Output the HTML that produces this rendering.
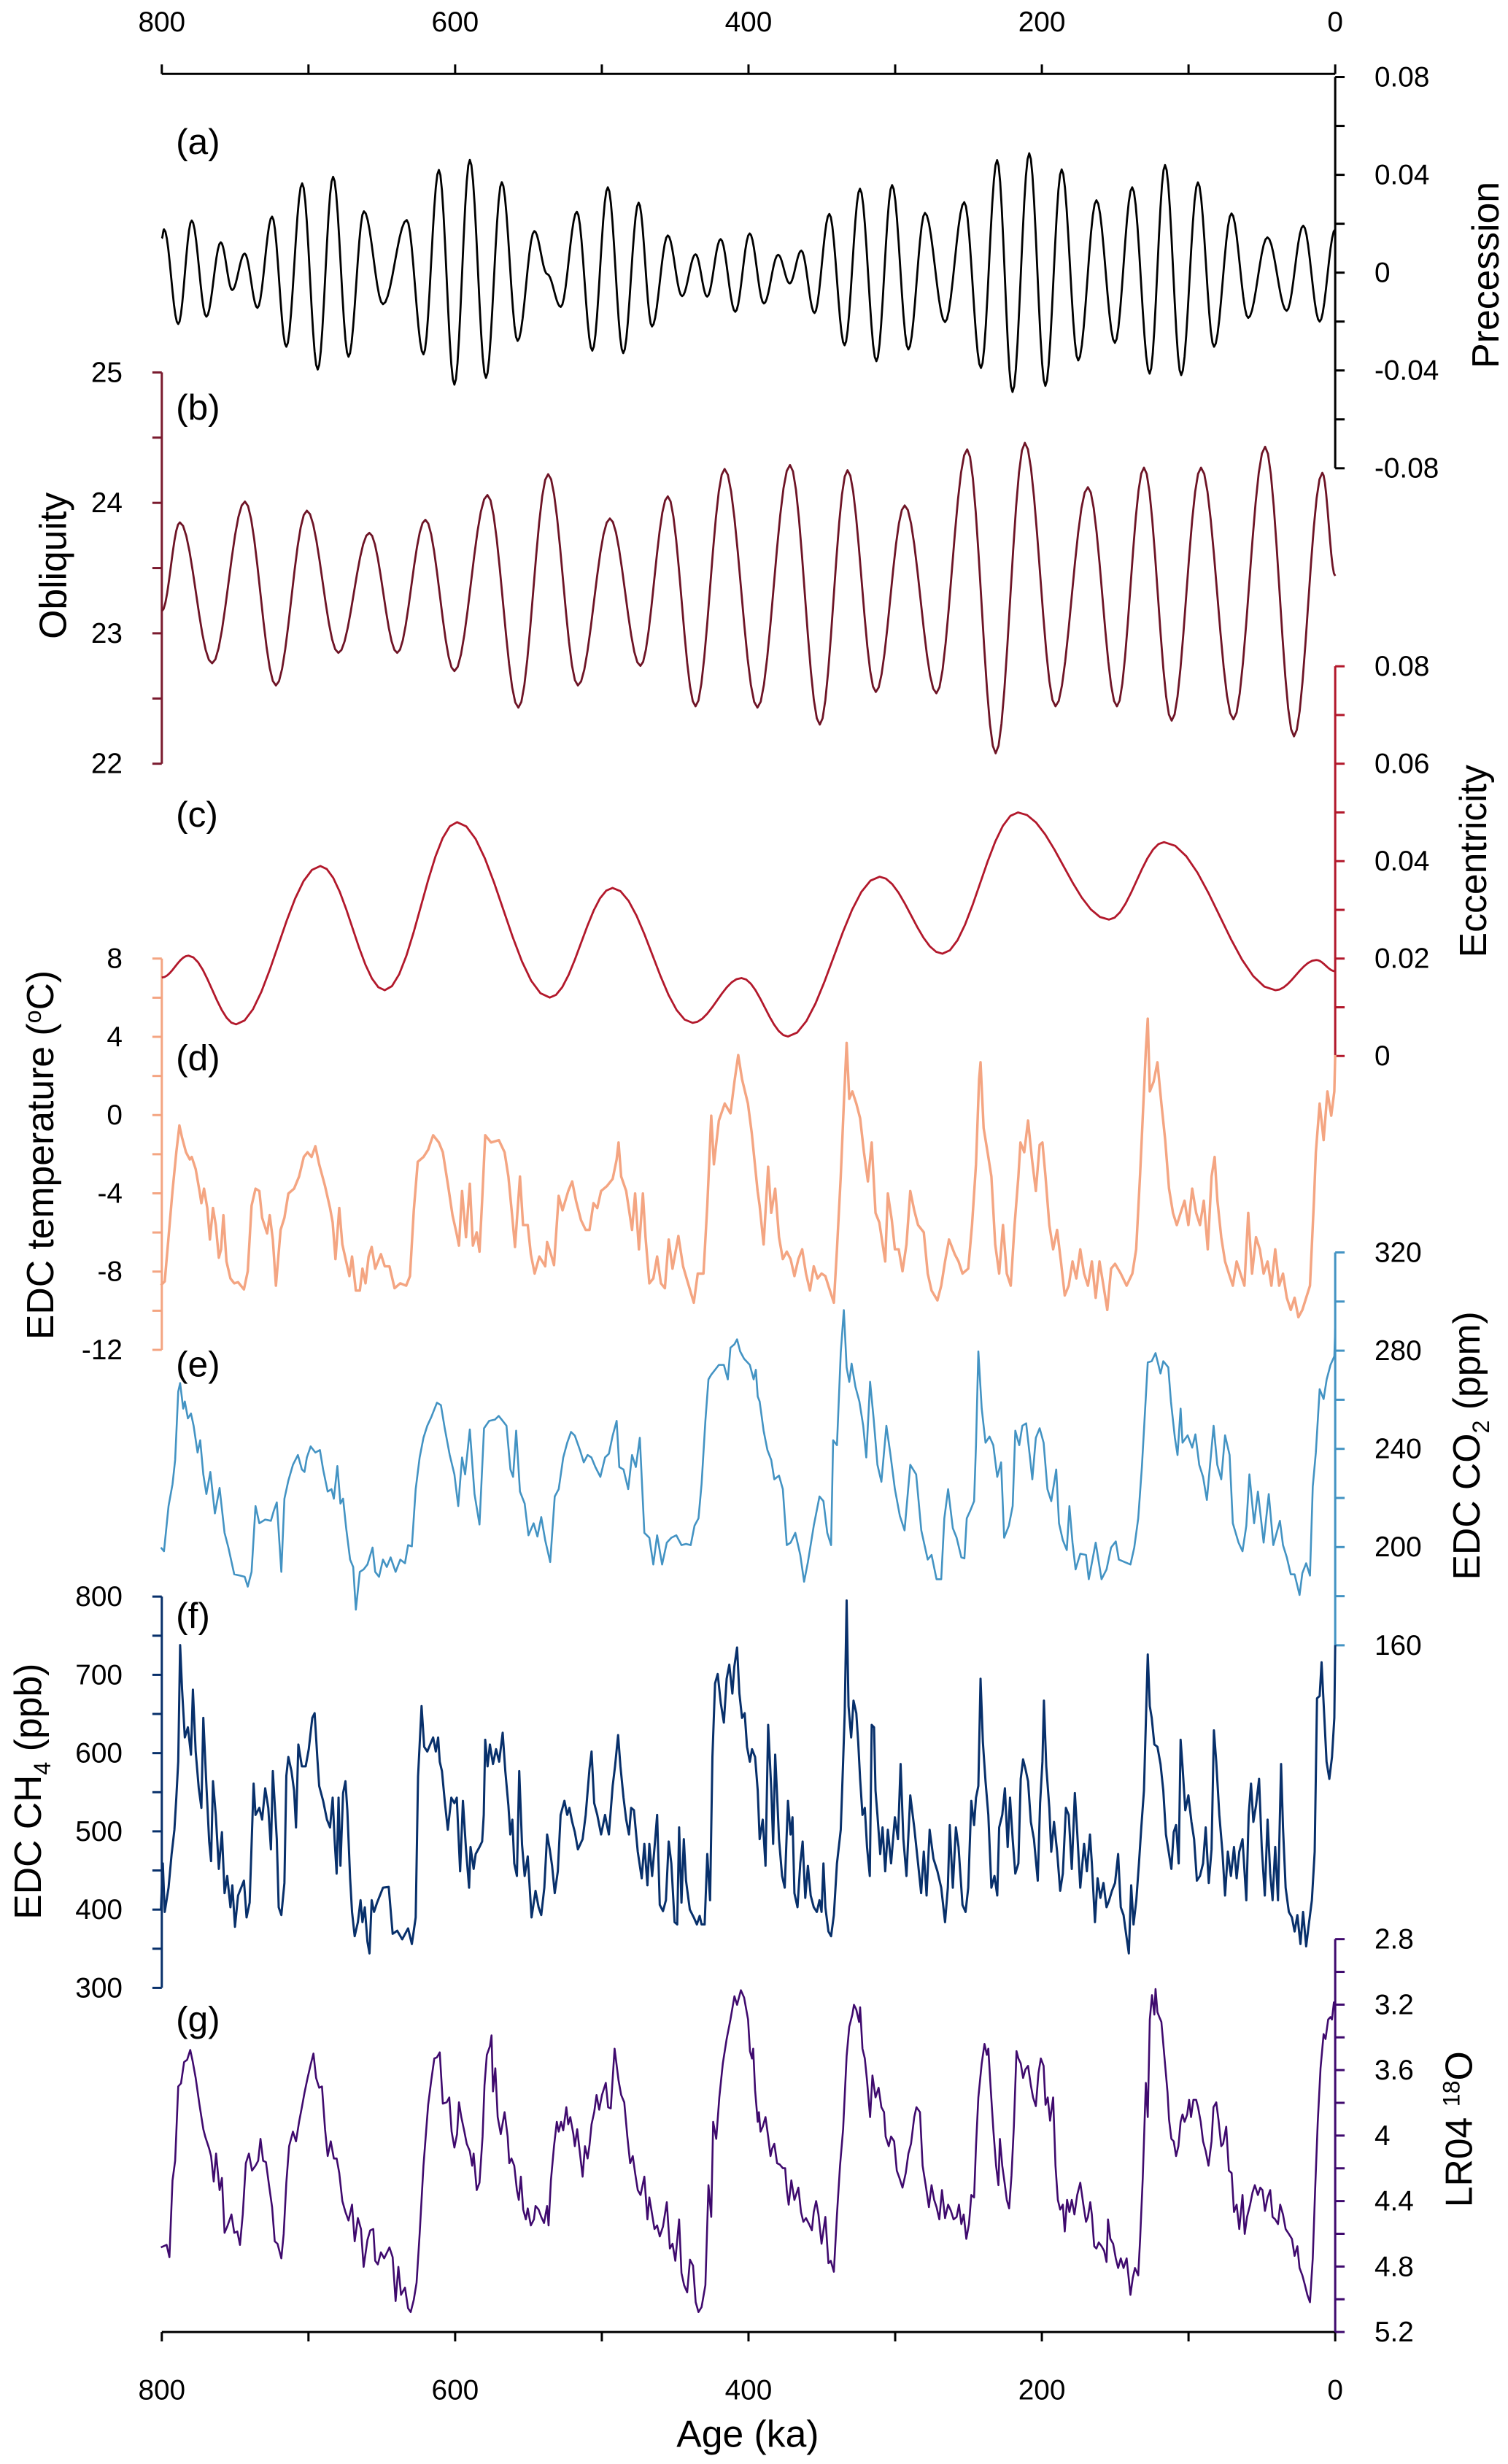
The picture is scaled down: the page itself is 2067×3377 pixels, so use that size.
<!DOCTYPE html>
<html><head><meta charset="utf-8"><title>Orbital and ice core records</title>
<style>
html,body{margin:0;padding:0;background:#fff;}
svg{display:block;font-family:"Liberation Sans",Arial,sans-serif;}
</style></head>
<body>
<svg id="chart" xmlns="http://www.w3.org/2000/svg" width="2067" height="3377" viewBox="0 0 960 1568" preserveAspectRatio="none">
<g id="axes"></g>
<g id="series"></g>
<g id="labels">
  <text x="112" y="98" font-size="23">(a)</text>
  <text x="112" y="267" font-size="23">(b)</text>
  <text x="112" y="526" font-size="23">(c)</text>
  <text x="112" y="681" font-size="23">(d)</text>
  <text x="112" y="876" font-size="23">(e)</text>
  <text x="112" y="1036" font-size="23">(f)</text>
  <text x="112" y="1293" font-size="23">(g)</text>
  <text x="476" y="1557" font-size="24" text-anchor="middle">Age (ka)</text>
  <text transform="translate(954,175) rotate(-90)" font-size="24" text-anchor="middle">Precession</text>
  <text transform="translate(42,360) rotate(-90)" font-size="24" text-anchor="middle">Obliquity</text>
  <text transform="translate(946,548) rotate(-90)" font-size="24" text-anchor="middle">Eccentricity</text>
  <text transform="translate(34,735) rotate(-90)" font-size="24" text-anchor="middle">EDC  temperature (<tspan font-size="15" dy="-8">o</tspan><tspan dy="8">C)</tspan></text>
  <text transform="translate(942,920) rotate(-90)" font-size="24" text-anchor="middle">EDC CO<tspan font-size="15" dy="6">2</tspan><tspan dy="-6"> (ppm)</tspan></text>
  <text transform="translate(26,1140) rotate(-90)" font-size="24" text-anchor="middle">EDC CH<tspan font-size="15" dy="6">4</tspan><tspan dy="-6"> (ppb)</tspan></text>
  <text transform="translate(937,1355) rotate(-90)" font-size="24" text-anchor="middle">LR04  <tspan font-size="15" dy="-8">18</tspan><tspan dy="8">O</tspan></text>
</g>
</svg>
<script>
const NS="http://www.w3.org/2000/svg";
// ---- data ----
const precAge=[800,798.5,788.8,779.6,769.6,759.8,752.0,743.5,734.8,724.8,715.1,704.3,693.7,683.2,672.7,662.2,649.2,633.0,621.6,611.1,600.5,590.0,579.0,568.2,557.4,546.0,537.2,528.0,517.0,506.5,495.9,485.4,474.9,465.8,455.0,445.3,436.1,428.2,419.0,409.0,399.2,389.5,379.8,371.9,364.0,355.0,344.9,334.5,324.0,312.8,302.1,291.0,279.7,266.0,252.9,241.5,230.5,220.0,208.6,197.6,186.5,175.2,162.8,150.2,138.4,126.5,116.0,105.0,93.6,82.6,70.7,59.3,46.2,33.1,21.8,10.6,0];
const precVal=[0.014,0.0177,-0.021,0.0213,-0.018,0.0124,-0.0071,0.0078,-0.0144,0.0229,-0.0303,0.0365,-0.0396,0.0392,-0.0344,0.0251,-0.0129,0.0215,-0.0334,0.042,-0.0458,0.0461,-0.043,0.037,-0.0279,0.017,-0.0006,-0.014,0.0249,-0.0319,0.0349,-0.0329,0.0286,-0.022,0.0152,-0.0096,0.0075,-0.0098,0.0137,-0.016,0.016,-0.0126,0.0073,-0.0044,0.009,-0.0165,0.024,-0.0297,0.0343,-0.0362,0.0358,-0.0314,0.0244,-0.0202,0.0288,-0.039,0.046,-0.0488,0.0488,-0.0463,0.0422,-0.0359,0.0296,-0.0287,0.0349,-0.0413,0.044,-0.0419,0.0369,-0.0303,0.0242,-0.0185,0.0144,-0.0156,0.0192,-0.02,0.0177];
const oblAge=[800,787.7,765.7,743.3,722.2,701.1,679.6,658.5,639.5,620.3,600.5,578.0,556.9,536.6,516.3,494.5,473.7,455.0,436.1,416.3,393.9,371.7,351.4,332.5,313.2,293.5,271.9,250.9,231.5,211.6,190.7,168.6,148.8,130.4,111.5,91.5,69.4,47.8,28.1,8.8,0];
const oblVal=[23.17,23.85,22.77,24.01,22.60,23.94,22.85,23.77,22.85,23.87,22.71,24.06,22.43,24.22,22.60,23.88,22.75,24.05,22.44,24.26,22.43,24.29,22.30,24.25,22.55,23.98,22.54,24.41,22.08,24.46,22.44,24.12,22.44,24.27,22.33,24.27,22.34,24.43,22.21,24.23,23.44];
const eccAge=[800,781.8,749.3,691.9,648.0,598.7,535.5,492.7,438.1,404.8,373.1,310.6,267.8,216.3,154.2,116.7,40.7,12.9,0];
const eccVal=[0.0161,0.0206,0.0065,0.039,0.0135,0.048,0.012,0.0345,0.0068,0.016,0.004,0.0368,0.021,0.050,0.028,0.0439,0.0135,0.0197,0.0174];
const tempAge=[800.6,798.0,795.4,792.7,790.1,788.0,786.2,783.5,780.9,779.6,776.9,774.3,773.0,771.2,769.0,767.2,765.1,763.2,761.1,759.6,758.0,755.9,753.2,750.6,748.0,744.0,741.4,738.8,736.1,733.5,731.6,728.2,726.4,724.3,722.2,719.0,716.4,713.7,709.8,706.4,703.2,700.6,697.9,695.3,692.7,688.7,685.3,683.5,681.6,679.0,676.9,674.3,672.1,670.3,667.7,665.0,663.2,661.1,659.0,656.9,654.5,650.6,648.0,644.8,641.3,637.4,633.4,630.8,628.2,625.5,621.6,618.4,615.0,611.1,608.4,604.5,601.8,599.2,597.4,595.3,592.6,590.0,587.9,585.3,583.4,581.6,579.5,575.5,570.2,566.3,563.7,561.0,559.2,555.8,553.7,550.5,548.4,545.8,542.6,538.6,537.3,534.7,532.6,529.4,526.8,522.9,520.2,517.6,514.2,511.0,508.4,505.7,503.1,500.5,496.5,492.6,489.9,488.6,486.8,483.4,479.4,477.3,474.7,472.0,470.2,467.6,464.9,462.3,459.7,457.0,454.4,451.8,447.8,444.6,441.2,437.3,434.6,430.7,428.1,425.4,423.6,420.2,416.2,412.3,409.6,407.0,404.4,400.4,397.8,393.8,392.4,389.7,386.6,384.5,381.8,379.2,376.6,373.9,371.3,368.7,366.0,363.4,360.8,358.1,355.5,352.9,350.2,347.6,345.0,341.8,339.7,337.1,335.0,333.1,331.3,329.2,326.5,323.9,321.3,318.6,316.0,313.4,310.8,306.8,305.0,302.3,300.2,297.6,295.0,292.3,289.7,287.0,284.4,280.5,277.8,275.2,271.2,268.6,266.0,263.3,259.4,256.8,254.1,250.2,247.6,244.9,242.8,241.8,239.7,237.0,234.4,231.8,229.1,226.5,223.9,221.2,218.6,216.0,214.6,212.0,209.4,206.7,204.1,201.5,199.6,197.5,194.9,192.3,189.6,187.0,184.4,181.7,179.1,176.5,173.8,171.2,168.6,165.9,163.3,160.7,158.0,155.4,152.8,150.1,146.2,142.2,138.3,135.7,133.0,130.4,129.1,127.8,126.4,123.8,121.2,118.5,115.9,113.3,110.6,108.0,105.4,102.7,100.1,97.5,94.8,92.2,89.6,86.9,84.3,82.2,80.3,77.7,75.1,72.5,69.8,67.2,64.6,61.9,59.3,56.7,54.0,51.4,48.8,46.1,43.5,40.9,38.2,35.6,33.0,30.3,27.7,25.1,22.4,19.8,17.2,14.5,13.2,10.6,7.9,5.3,2.7,0.6,0];
const tempVal=[-8.7,-8.5,-6.24,-3.88,-1.9,-0.53,-1.15,-1.9,-2.27,-2.14,-2.76,-3.88,-4.5,-3.76,-4.75,-6.36,-4.75,-5.62,-7.29,-6.86,-5.12,-7.48,-8.35,-8.6,-8.54,-8.91,-7.98,-4.63,-3.76,-3.88,-5.25,-6.05,-5.12,-6.36,-8.72,-5.87,-5.25,-4.01,-3.76,-3.14,-2.14,-1.9,-2.14,-1.59,-2.52,-3.63,-4.75,-5.49,-7.36,-4.75,-6.61,-7.48,-8.23,-7.23,-8.97,-8.97,-7.85,-8.6,-7.23,-6.74,-7.85,-7.11,-7.73,-7.73,-8.85,-8.6,-8.72,-8.23,-4.87,-2.39,-2.14,-1.77,-1.03,-1.4,-1.9,-3.76,-5.12,-5.99,-6.67,-3.88,-6.24,-3.51,-6.67,-5.99,-6.98,-4.38,-1.03,-1.4,-1.28,-1.9,-3.14,-5.25,-6.74,-3.14,-5.62,-5.62,-7.11,-8.1,-7.23,-7.73,-6.49,-7.11,-7.67,-4.13,-4.87,-3.88,-3.39,-4.38,-5.37,-5.87,-5.87,-4.5,-4.75,-3.88,-3.63,-3.26,-2.27,-1.4,-3.14,-3.88,-5.87,-4.01,-6.86,-4.01,-6.24,-8.6,-8.35,-7.23,-8.6,-8.85,-6.36,-7.85,-6.18,-7.73,-8.6,-9.59,-8.1,-8.1,-4.63,-0.03,-2.52,-0.28,0.59,0.09,1.7,3.07,1.83,0.59,-0.9,-3.88,-4.63,-6.61,-2.64,-5.0,-3.76,-6.24,-7.36,-6.98,-7.36,-8.23,-7.36,-6.86,-8.1,-8.97,-7.73,-8.35,-8.1,-8.23,-8.85,-9.59,-6.86,-3.14,0.59,3.69,0.83,1.21,0.59,-0.16,-1.9,-3.39,-1.4,-5.0,-5.49,-7.48,-4.01,-5.37,-6.86,-6.86,-7.98,-6.61,-3.88,-4.87,-5.62,-5.99,-8.1,-8.97,-9.47,-8.72,-7.48,-6.36,-7.11,-7.48,-8.1,-7.85,-5.62,-2.52,1.83,2.7,-0.66,-1.9,-3.14,-6.61,-8.1,-5.62,-8.1,-8.72,-5.62,-3.14,-1.4,-1.9,-0.28,-2.27,-3.88,-1.52,-1.4,-3.14,-5.62,-6.86,-5.87,-7.48,-9.22,-8.72,-7.48,-8.35,-6.86,-8.1,-8.72,-7.48,-9.34,-7.48,-8.72,-9.96,-7.85,-7.6,-8.1,-8.72,-8.1,-6.86,-3.01,1.21,3.32,4.93,1.21,1.7,2.7,0.59,-1.28,-3.76,-5.0,-5.62,-5.0,-4.38,-5.62,-3.76,-5.0,-5.62,-4.38,-6.86,-3.14,-2.14,-4.38,-6.24,-7.48,-8.1,-8.72,-7.48,-8.1,-8.72,-5.0,-8.1,-6.24,-6.86,-8.1,-7.48,-8.72,-6.86,-8.72,-8.1,-9.34,-9.96,-9.34,-10.33,-9.96,-9.34,-8.72,-4.38,-1.9,0.59,-1.28,1.21,-0.03,1.21,3.07];
const co2Age=[800.6,798.5,795.4,792.7,790.9,788.8,787.5,785.4,784.3,782.2,780.1,778.3,775.6,773.8,771.7,769.6,766.9,763.8,760.6,757.2,754.6,750.6,746.7,743.5,741.4,738.8,736.1,733.5,729.5,725.6,723.7,721.6,718.5,716.4,713.7,710.6,707.2,704.5,702.7,701.1,698.5,695.3,692.2,690.0,686.9,684.3,682.7,680.3,678.2,676.4,674.3,671.6,669.5,667.7,665.0,662.4,659.8,656.3,654.5,651.9,649.2,646.6,644.0,640.6,637.4,634.2,632.1,629.5,626.9,624.2,621.6,619.0,616.3,612.4,609.7,607.1,603.7,600.5,597.9,595.3,593.2,590.0,586.8,583.4,580.3,576.8,572.9,570.3,567.6,565.0,562.3,560.5,558.4,555.8,552.6,550.0,546.5,543.9,541.3,538.6,535.2,532.1,529.4,526.3,523.6,521.0,518.4,514.9,512.3,509.7,507.1,504.4,501.0,497.8,495.2,492.6,489.9,488.1,485.2,482.0,479.4,476.8,474.1,471.0,467.6,464.9,462.3,458.9,455.7,452.6,449.2,445.7,442.6,439.4,436.8,434.1,432.0,429.4,427.3,425.4,422.8,420.2,416.8,414.1,412.3,409.6,407.8,405.7,403.0,399.1,396.5,395.0,393.7,392.4,389.7,387.1,384.5,382.4,379.2,376.6,373.9,371.3,368.1,364.7,362.1,359.5,355.5,351.6,348.9,346.3,343.7,342.3,339.7,337.1,335.0,333.1,331.3,329.7,327.1,324.4,321.8,319.7,317.1,314.7,312.1,309.4,306.0,303.4,300.2,296.8,293.6,289.7,285.7,282.2,277.8,275.2,271.8,268.6,266.5,263.9,260.7,258.1,254.9,252.8,251.2,248.9,246.2,244.9,243.3,241.0,238.4,235.7,233.1,230.4,227.8,225.7,222.5,219.9,218.1,215.4,213.3,210.7,208.1,206.5,204.1,201.5,198.8,196.2,193.6,190.2,188.3,185.7,183.0,181.2,179.1,177.0,173.8,169.9,168.0,163.3,159.3,155.9,152.8,149.6,147.5,143.6,139.6,137.0,134.3,131.8,129.1,127.8,125.1,122.5,119.1,117.2,113.8,112.0,109.3,107.5,105.4,104.1,100.6,97.5,95.3,92.7,90.1,87.5,82.9,80.4,77.7,75.1,72.0,69.8,65.9,63.2,60.6,58.5,55.3,52.7,48.8,45.3,42.2,37.7,35.6,33.0,30.3,27.7,24.3,22.4,19.8,17.2,15.3,13.2,10.6,7.9,5.8,3.2,0.6,0];
const co2Val=[199.8,198.3,216.7,225.6,235.5,263.3,266.8,256.4,259.3,252.4,254.4,249.4,238.5,243.5,229.6,221.6,230.6,213.7,224.1,205.8,199.8,188.9,188.4,187.9,183.9,189.9,216.7,209.7,211.2,210.7,214.7,218.2,189.9,219.7,227.1,233.5,237.5,231.6,230.6,236.5,241.0,238.5,239.5,231.6,222.6,223.6,219.7,233.0,217.7,219.7,207.7,194.9,191.9,174.5,189.9,190.9,192.9,199.8,189.9,187.9,194.9,191.9,195.8,189.9,194.9,193.4,200.8,200.3,223.6,236.5,244.5,249.4,252.9,258.8,257.8,248.4,237.5,229.6,216.7,236.5,229.6,247.9,221.6,209.2,248.4,251.4,251.9,253.4,251.4,249.4,231.6,228.6,247.4,222.6,217.7,204.8,209.7,204.3,212.2,202.8,193.9,220.6,223.6,236.5,242.5,246.9,245.4,239.5,234.5,237.5,236.5,232.6,228.6,236.5,238.0,245.4,251.4,232.6,231.6,223.6,237.5,232.6,244.5,205.8,203.8,192.9,204.8,192.9,201.8,203.8,204.8,200.8,201.3,200.8,208.7,211.7,225.6,251.4,268.3,270.2,272.2,274.2,274.2,268.3,281.2,282.6,284.6,279.7,276.7,274.2,268.3,272.2,261.3,259.3,247.4,239.5,235.5,227.6,229.1,223.6,200.8,201.8,205.8,196.8,185.9,193.9,208.7,220.6,218.7,205.8,200.8,243.5,241.5,279.2,296.5,273.2,267.3,274.7,265.3,259.3,249.4,236.5,267.3,252.4,233.5,226.6,249.4,238.5,223.6,212.7,206.8,233.5,229.6,206.8,194.9,196.8,186.9,186.9,211.7,223.6,207.7,203.8,195.8,195.4,211.7,214.7,218.7,241.5,279.7,256.4,242.5,245.0,241.5,228.6,234.5,203.8,208.7,216.7,247.4,241.5,249.4,250.4,236.5,227.6,244.5,248.4,242.5,223.6,218.7,231.6,209.7,202.8,198.8,216.7,201.8,190.9,197.3,196.8,186.9,201.8,186.9,190.9,199.8,202.3,194.9,193.9,192.9,199.8,211.7,232.6,261.3,275.2,275.7,279.0,270.7,275.7,273.2,259.3,244.5,237.5,256.4,242.5,245.5,240.5,245.9,233.5,228.6,219.2,249.4,233.5,227.6,245.5,237.5,209.7,201.8,198.3,208.7,229.6,209.7,222.6,201.8,221.6,200.8,210.7,200.8,195.8,188.9,188.9,180.5,189.4,193.4,188.4,224.6,238.5,264.3,260.3,268.3,274.2,277.7,289.1];
const ch4Age=[800.6,799.3,798.0,795.4,793.3,791.4,790.1,788.8,787.5,786.2,784.3,782.2,780.1,778.8,776.9,774.8,773.0,771.7,769.8,767.7,766.4,765.1,763.2,761.1,759.0,757.2,755.4,753.2,751.9,750.1,748.0,745.9,744.0,742.2,740.1,737.4,736.1,733.5,731.6,729.5,727.4,725.6,724.3,721.6,720.3,718.5,716.4,715.1,713.7,711.6,709.8,708.5,706.9,704.5,701.9,699.8,697.4,695.8,694.0,692.7,690.0,687.4,685.3,683.5,682.2,680.8,679.5,678.2,676.4,674.8,673.5,671.6,670.3,668.5,666.3,664.5,663.2,661.6,659.8,658.4,656.9,655.3,653.2,649.2,645.3,642.6,639.5,636.1,632.1,629.5,626.9,625.3,622.9,621.1,619.0,615.0,613.2,611.6,610.5,609.0,607.1,605.0,602.6,600.5,598.9,596.6,594.7,592.6,590.5,589.5,587.4,586.0,583.4,581.6,580.5,579.5,577.9,576.3,574.2,572.1,570.0,567.6,565.8,563.7,562.4,561.0,559.7,557.9,556.3,554.4,552.6,550.5,547.9,545.2,543.1,541.3,539.2,537.3,535.5,533.9,532.1,530.0,528.1,525.5,523.6,522.1,520.2,518.4,516.3,513.1,511.0,508.4,507.0,505.2,503.1,500.5,497.8,496.5,495.2,492.6,491.0,488.9,487.3,485.2,483.4,481.5,480.0,478.1,475.5,472.8,471.0,468.9,467.6,465.7,463.6,462.3,460.5,458.3,456.3,454.4,452.6,450.4,448.6,447.3,445.7,444.1,442.6,440.0,437.3,435.2,433.3,432.0,429.9,428.1,426.2,424.6,422.8,421.0,418.9,416.8,414.9,413.1,411.0,409.7,407.8,406.2,404.4,402.6,401.0,399.1,397.6,395.5,393.7,392.4,390.3,388.4,386.6,384.5,383.2,381.8,380.5,379.2,377.1,375.3,373.1,371.3,370.0,368.7,366.6,364.7,363.1,361.3,359.5,357.6,355.5,353.4,351.6,350.2,348.9,347.6,345.5,343.7,341.8,339.7,337.1,335.5,334.4,333.1,331.8,330.0,328.4,326.5,325.2,323.9,322.3,320.7,319.2,317.3,316.0,314.4,313.4,312.1,310.2,308.6,306.8,305.0,302.8,300.2,298.1,296.3,294.4,292.3,289.7,287.0,284.4,282.3,280.5,278.6,276.5,273.9,271.2,268.6,266.0,264.1,262.8,260.7,258.6,256.8,254.1,252.0,250.2,248.1,246.2,244.9,243.3,241.8,240.2,238.4,236.5,234.4,232.3,230.4,229.1,227.0,225.2,223.3,221.7,219.9,218.1,216.0,214.4,212.8,211.2,209.4,207.5,205.4,202.8,201.2,199.6,198.6,197.0,194.9,193.6,191.7,189.6,187.5,185.7,183.6,181.7,179.6,177.5,175.9,173.8,171.2,169.3,167.2,165.9,163.8,162.0,160.1,158.0,155.9,154.1,152.2,150.1,148.0,146.2,144.3,142.8,140.7,139.1,137.5,135.6,133.8,132.2,130.4,129.1,127.8,126.4,125.1,123.3,121.2,119.1,117.2,115.4,113.3,111.7,110.1,108.5,106.7,105.4,104.1,102.2,100.1,98.0,96.2,94.3,92.2,90.1,88.3,86.2,84.3,82.7,81.1,79.0,76.9,75.1,73.2,71.1,69.0,67.2,65.4,63.2,60.6,59.0,57.4,55.8,54.0,51.9,50.1,48.0,46.1,44.3,42.7,40.9,39.0,36.9,35.6,33.8,31.6,29.5,27.7,25.8,23.7,21.9,19.8,18.0,15.9,14.0,12.4,10.6,9.3,7.4,5.9,4.0,2.2,0.6,0];
const ch4Val=[400,459,397,428,471,502,543,589,738,682,620,633,598,681,602,555,530,645,567,487,462,564,521,452,499,421,443,403,431,378,418,428,437,390,409,561,521,530,515,555,530,477,577,490,403,393,434,571,595,577,552,505,611,583,583,605,645,651,595,558,539,515,505,543,490,446,543,456,549,564,527,440,397,366,384,412,384,403,359,344,412,397,409,428,429,369,373,362,376,356,390,570,660,608,602,620,602,620,589,577,539,502,543,536,543,449,539,477,428,480,452,471,480,487,521,617,583,611,586,605,589,626,577,533,496,515,459,443,577,483,443,468,390,424,403,393,428,496,477,456,421,449,521,539,521,530,512,499,477,490,521,580,602,536,521,496,521,508,496,558,583,623,583,543,515,496,530,527,474,440,484,431,484,443,490,521,406,398,412,487,459,384,381,505,409,490,437,400,390,381,392,381,381,471,412,595,689,701,664,639,695,713,676,710,735,676,645,651,608,589,605,595,552,490,515,456,636,555,484,598,546,490,443,428,539,496,518,421,403,459,487,415,456,418,403,397,412,397,459,403,372,366,393,459,502,589,651,795,660,620,667,651,614,567,521,530,480,443,636,633,552,521,471,505,449,502,459,518,490,586,490,443,546,505,459,421,474,418,502,465,449,428,384,428,508,428,505,480,406,397,428,539,508,543,558,695,614,564,521,428,443,418,505,521,555,480,543,490,446,459,567,592,580,564,512,490,437,536,589,667,583,530,474,512,474,424,446,530,521,452,549,499,428,484,449,496,459,384,440,415,434,403,412,424,434,471,403,393,372,344,431,381,412,459,505,552,639,726,660,645,611,608,586,552,496,471,452,499,508,459,617,583,527,546,512,490,437,443,459,505,434,477,629,589,521,474,418,474,443,480,440,474,490,412,521,561,512,533,567,480,418,515,446,412,480,412,586,505,428,397,390,372,393,356,397,353,381,412,474,670,673,716,645,589,567,595,645,738];
const lrAge=[800.6,796.7,794.8,792.7,790.9,788.8,786.9,784.8,782.7,780.6,779.0,776.9,774.3,771.7,770.4,767.7,766.4,764.6,763.0,760.6,759.0,757.2,755.4,752.5,750.6,748.5,746.7,744.8,742.7,740.6,738.5,736.1,734.3,732.7,730.9,729.0,726.9,724.8,723.0,721.1,718.5,716.9,715.1,713.2,710.6,708.5,706.4,704.5,702.7,700.6,698.5,696.6,694.8,692.7,690.8,688.7,686.9,684.8,682.7,680.8,679.0,676.9,674.8,672.7,670.3,668.5,666.3,664.2,662.4,659.8,657.9,655.8,654.5,652.7,650.6,648.4,644.8,642.6,640.6,638.7,636.9,634.2,632.1,630.3,628.2,626.3,624.2,621.6,618.4,616.3,614.2,612.4,610.5,608.4,605.8,604.0,602.4,600.5,598.7,597.4,595.8,593.7,592.1,590.0,588.4,587.4,585.3,583.4,581.3,580.0,578.4,576.3,575.2,574.2,572.6,571.0,568.9,566.3,564.2,563.1,561.6,559.7,557.9,556.6,555.2,553.6,551.8,550.5,548.4,546.3,545.2,543.1,541.3,539.4,537.3,536.3,534.7,532.6,530.7,529.4,527.8,526.3,524.2,522.9,521.5,519.4,518.4,516.8,515.0,513.1,511.5,509.7,508.4,507.0,505.2,503.6,501.8,499.9,497.3,495.7,493.9,491.3,488.6,486.8,484.7,482.6,480.7,478.9,477.3,475.5,473.6,471.0,468.9,467.6,465.7,464.1,462.3,460.5,458.3,455.7,453.6,451.8,449.9,447.3,445.7,443.9,441.8,439.9,437.8,436.0,434.1,432.0,429.4,427.3,425.4,424.1,422.0,419.9,417.5,414.9,412.3,409.6,407.8,405.2,403.0,400.3,399.0,397.6,396.8,395.5,393.7,392.9,391.8,390.3,388.4,386.6,385.0,383.9,382.4,380.5,378.7,376.6,375.0,373.9,372.6,370.8,368.7,366.0,364.2,362.6,360.8,358.7,356.8,355.5,353.9,352.3,350.2,347.6,345.5,343.9,341.8,339.7,337.6,335.5,333.1,331.3,329.2,328.1,326.5,324.6,323.9,322.3,320.7,319.2,317.1,315.5,313.4,311.3,309.4,307.6,306.5,304.4,302.8,300.7,298.9,297.1,295.0,292.8,291.0,289.2,287.0,285.5,283.1,281.3,279.2,277.0,275.2,273.4,271.8,269.9,268.1,266.0,263.9,262.0,260.2,258.1,256.5,254.9,253.3,251.5,249.7,248.1,246.2,244.9,243.3,241.0,239.1,237.5,236.5,234.9,233.1,231.2,229.6,228.6,227.0,225.4,223.9,222.3,220.7,219.1,217.3,216.0,214.4,212.8,211.2,209.4,207.5,206.0,204.1,202.3,200.7,198.8,197.5,196.0,194.4,192.3,190.7,189.1,187.5,185.7,184.4,182.8,181.2,179.6,177.8,175.9,173.8,171.7,169.9,168.6,167.0,165.9,164.3,162.8,161.2,159.3,157.5,155.9,154.9,153.3,151.4,149.6,148.0,146.2,144.3,142.2,139.6,138.0,136.5,134.3,133.0,131.2,129.1,127.8,126.4,124.9,123.3,122.5,121.2,119.9,118.5,117.2,115.9,114.3,113.3,111.7,110.1,108.5,106.9,105.4,104.1,102.7,100.9,99.6,98.3,96.7,94.8,93.5,91.7,90.1,88.3,86.4,84.3,83.0,81.1,79.6,77.7,76.4,74.3,72.5,70.6,69.0,67.2,65.4,63.2,61.7,60.1,58.0,56.4,54.8,52.7,51.1,49.6,47.9,46.1,44.3,42.7,40.9,39.0,37.5,35.6,33.8,31.6,29.5,27.7,25.8,24.3,22.4,20.6,19.0,17.2,15.3,13.7,11.9,10.0,7.9,6.6,4.8,3.2,2.2,0.9,0];
const lrVal=[4.683,4.668,4.743,4.274,4.154,3.700,3.681,3.551,3.537,3.477,3.544,3.648,3.812,3.961,4.006,4.08,4.125,4.281,4.11,4.333,4.259,4.594,4.556,4.482,4.594,4.586,4.668,4.482,4.169,4.11,4.214,4.184,4.154,4.02,4.154,4.162,4.303,4.437,4.646,4.661,4.75,4.601,4.288,4.065,3.976,4.035,3.916,3.827,3.738,3.648,3.566,3.499,3.648,3.708,3.7,3.961,4.125,4.035,4.14,4.14,4.229,4.4,4.467,4.519,4.422,4.646,4.504,4.571,4.802,4.638,4.579,4.571,4.765,4.787,4.713,4.75,4.683,4.743,5.011,4.802,4.973,4.929,5.055,5.078,5.003,4.899,4.601,4.184,3.812,3.663,3.529,3.522,3.492,3.805,3.797,3.767,3.976,4.073,3.991,3.797,3.887,3.976,4.05,4.095,4.184,4.11,4.333,4.288,4.006,3.693,3.507,3.455,3.388,3.73,3.589,3.887,3.991,3.857,4.006,4.169,4.14,4.184,4.333,4.393,4.251,4.452,4.512,4.445,4.549,4.512,4.43,4.452,4.497,4.534,4.43,4.549,4.274,4.065,3.916,3.976,3.916,3.968,3.827,3.931,3.887,3.991,4.065,3.961,4.102,4.251,4.065,4.14,4.058,3.931,3.857,3.752,3.842,3.752,3.678,3.827,3.834,3.469,3.663,3.752,3.797,4.006,4.169,4.125,4.229,4.333,4.363,4.251,4.512,4.378,4.482,4.571,4.549,4.616,4.556,4.407,4.69,4.661,4.765,4.512,4.839,4.914,4.958,4.758,4.795,5.018,5.078,5.048,4.914,4.303,4.497,3.916,4.02,3.767,3.559,3.41,3.291,3.149,3.201,3.112,3.157,3.291,3.484,3.529,3.469,3.723,3.916,3.857,3.976,3.946,3.887,4.006,4.125,4.08,4.05,4.169,4.177,4.199,4.199,4.333,4.422,4.274,4.393,4.318,4.467,4.527,4.504,4.541,4.579,4.467,4.4,4.482,4.661,4.497,4.78,4.765,4.832,4.482,4.184,3.961,3.514,3.335,3.261,3.201,3.231,3.306,3.216,3.469,3.529,3.663,3.887,3.633,3.767,3.708,3.827,3.857,4.006,4.065,4.006,4.035,4.214,4.259,4.318,4.229,4.11,4.05,3.887,3.827,3.857,4.184,4.303,4.437,4.303,4.393,4.437,4.512,4.333,4.504,4.422,4.46,4.512,4.497,4.422,4.541,4.482,4.631,4.541,4.363,4.378,4.065,3.767,3.559,3.44,3.507,3.469,3.708,3.961,4.184,4.303,4.02,4.184,4.288,4.393,4.445,4.244,3.946,3.484,3.529,3.559,3.648,3.596,3.574,3.693,3.767,3.82,3.618,3.529,3.574,3.812,3.767,3.909,3.767,4.184,4.393,4.452,4.422,4.586,4.393,4.467,4.393,4.482,4.363,4.288,4.422,4.527,4.497,4.407,4.482,4.676,4.69,4.653,4.676,4.705,4.772,4.512,4.631,4.661,4.75,4.809,4.75,4.809,4.75,4.973,4.869,4.809,4.854,4.631,4.259,3.678,3.887,3.291,3.142,3.261,3.105,3.246,3.276,3.306,3.44,3.574,3.738,3.901,4.02,4.035,4.125,4.065,3.916,3.871,3.916,3.871,3.782,3.887,3.782,3.782,3.827,3.916,4.035,4.095,4.184,4.035,3.827,3.797,3.901,4.065,4.05,3.946,4.214,4.229,4.467,4.422,4.571,4.363,4.601,4.497,4.422,4.348,4.303,4.363,4.318,4.333,4.46,4.378,4.333,4.497,4.512,4.541,4.422,4.482,4.571,4.601,4.631,4.735,4.676,4.809,4.854,4.914,4.973,5.018,4.75,4.333,3.916,3.589,3.38,3.41,3.291,3.276,3.291,3.186,3.231];
const ageTicks=[800,600,400,200,0];

// ---- scales ----
const X0=103, X1=850;
function xAge(a){return X1-(a/800)*(X1-X0);}
function lin(d0,d1,r0,r1){return v=>r0+(v-d0)*(r1-r0)/(d1-d0);}
const yPrec=lin(0.08,-0.08,49,298);
const yObl=lin(25,22,237,486);
const yEcc=lin(0.08,0,424,672);
const yTemp=lin(8,-12,610,859);
const yCO2=lin(320,160,797,1047);
const yCH4=lin(800,300,1016,1265);
const yLR=lin(2.8,5.2,1234,1484);

const axesG=document.getElementById('axes');
const seriesG=document.getElementById('series');
function mk(tag,attrs,parent){const e=document.createElementNS(NS,tag);for(const k in attrs)e.setAttribute(k,attrs[k]);parent.appendChild(e);return e;}

function fmt(v){let s=String(Math.round(v*1000)/1000);if(s.startsWith('-0.'))s='-'+s.slice(2);else if(s.startsWith('0.'))s=s.slice(1);return s;}

function vAxis(name,side,ys,dMin,dMax,minorStep,labels,color,fmtFn){
  const x=side==='left'?X0:X1;
  const g=mk('g',{},axesG);
  
  
  const ln=mk('line',{x1:x,x2:x,y1:ys(dMax),y2:ys(dMin),stroke:color,'stroke-width':1.4},g);
  
  
  const n=Math.round((dMax-dMin)/minorStep);
  for(let i=0;i<=n;i++){
    const v=dMin+i*minorStep;const y=ys(v);
    const dx=side==='left'?-6:6;
    const t=mk('line',{x1:x,x2:x+dx,y1:y,y2:y,stroke:color,'stroke-width':1.4},g);
    
    
  }
  labels.forEach(v=>{
    const y=ys(v)+6;
    const tx=mk('text',{x:side==='left'?78:875,y:y,'font-size':18,'text-anchor':side==='left'?'end':'start',fill:'#000'},g);
    tx.textContent=fmtFn?fmtFn(v):String(v);
    
    
  });
}
// age axes
function hAxis(name,y,dir,labelY){
  const g=mk('g',{},axesG);
  
  
  const ln=mk('line',{x1:X0,x2:X1,y1:y,y2:y,stroke:'#000','stroke-width':1.4},g);
  
  
  for(let a=0;a<=800;a+=100){
    const t=mk('line',{x1:xAge(a),x2:xAge(a),y1:y,y2:y+dir*6,stroke:'#000','stroke-width':1.4},g);
    
    
  }
  ageTicks.forEach(a=>{
    const t=mk('text',{x:xAge(a),y:labelY,'font-size':18,'text-anchor':'middle'},g);
    t.textContent=String(a);
    
    
  });
}
hAxis('top-age-axis',47,-1,20);
hAxis('bottom-age-axis',1484,1,1527);

const precFmt=v=>v===0?'0':v.toFixed(2);
vAxis('precession-axis','right',yPrec,-0.08,0.08,0.02,[0.08,0.04,0,-0.04,-0.08],'#000',precFmt);
vAxis('obliquity-axis','left',yObl,22,25,0.5,[25,24,23,22],'#7a1a2e');
vAxis('eccentricity-axis','right',yEcc,0,0.08,0.01,[0.08,0.06,0.04,0.02,0],'#b2182b',precFmt);
vAxis('temperature-axis','left',yTemp,-12,8,2,[8,4,0,-4,-8,-12],'#f4a582');
vAxis('co2-axis','right',yCO2,160,320,20,[320,280,240,200,160],'#4393c3');
vAxis('ch4-axis','left',yCH4,300,800,50,[800,700,600,500,400,300],'#08306b');
vAxis('lr04-axis','right',yLR,2.8,5.2,0.2,[2.8,3.2,3.6,4,4.4,4.8,5.2],'#3f0a6e');

// smooth curves through extrema (half-cosine between successive turning points)
function smoothPath(ages,vals,ys){
  let d='M'+xAge(ages[0]).toFixed(2)+','+ys(vals[0]).toFixed(2);
  for(let i=1;i<ages.length;i++){
    const a0=ages[i-1],a1=ages[i],v0=vals[i-1],v1=vals[i];
    for(let k=1;k<=10;k++){
      const t=k/10;const a=a0+(a1-a0)*t;const v=v0+(v1-v0)*(1-Math.cos(Math.PI*t))/2;
      d+='L'+xAge(a).toFixed(2)+','+ys(v).toFixed(2);
    }
  }
  return d;
}
function linePath(ages,vals,ys){
  return ages.map((a,i)=>(i?'L':'M')+xAge(a).toFixed(2)+','+ys(vals[i]).toFixed(2)).join('');
}
function addSeries(name,d,color,w){
  const p=mk('path',{d:d,fill:'none',stroke:color,'stroke-width':w,'stroke-linejoin':'round'},seriesG);
  
  
}
addSeries('precession-line',smoothPath(precAge,precVal,yPrec),'#000',1.3);
addSeries('obliquity-line',smoothPath(oblAge,oblVal,yObl),'#6e1426',1.3);
addSeries('eccentricity-line',smoothPath(eccAge,eccVal,yEcc),'#b2182b',1.3);
addSeries('temperature-line',linePath(tempAge,tempVal,yTemp),'#f4a582',1.6);
addSeries('co2-line',linePath(co2Age,co2Val,yCO2),'#4393c3',1.2);
addSeries('ch4-line',linePath(ch4Age,ch4Val,yCH4),'#08306b',1.4);
addSeries('lr04-line',linePath(lrAge,lrVal,yLR),'#3f0a6e',1.2);
</script>
</body></html>
